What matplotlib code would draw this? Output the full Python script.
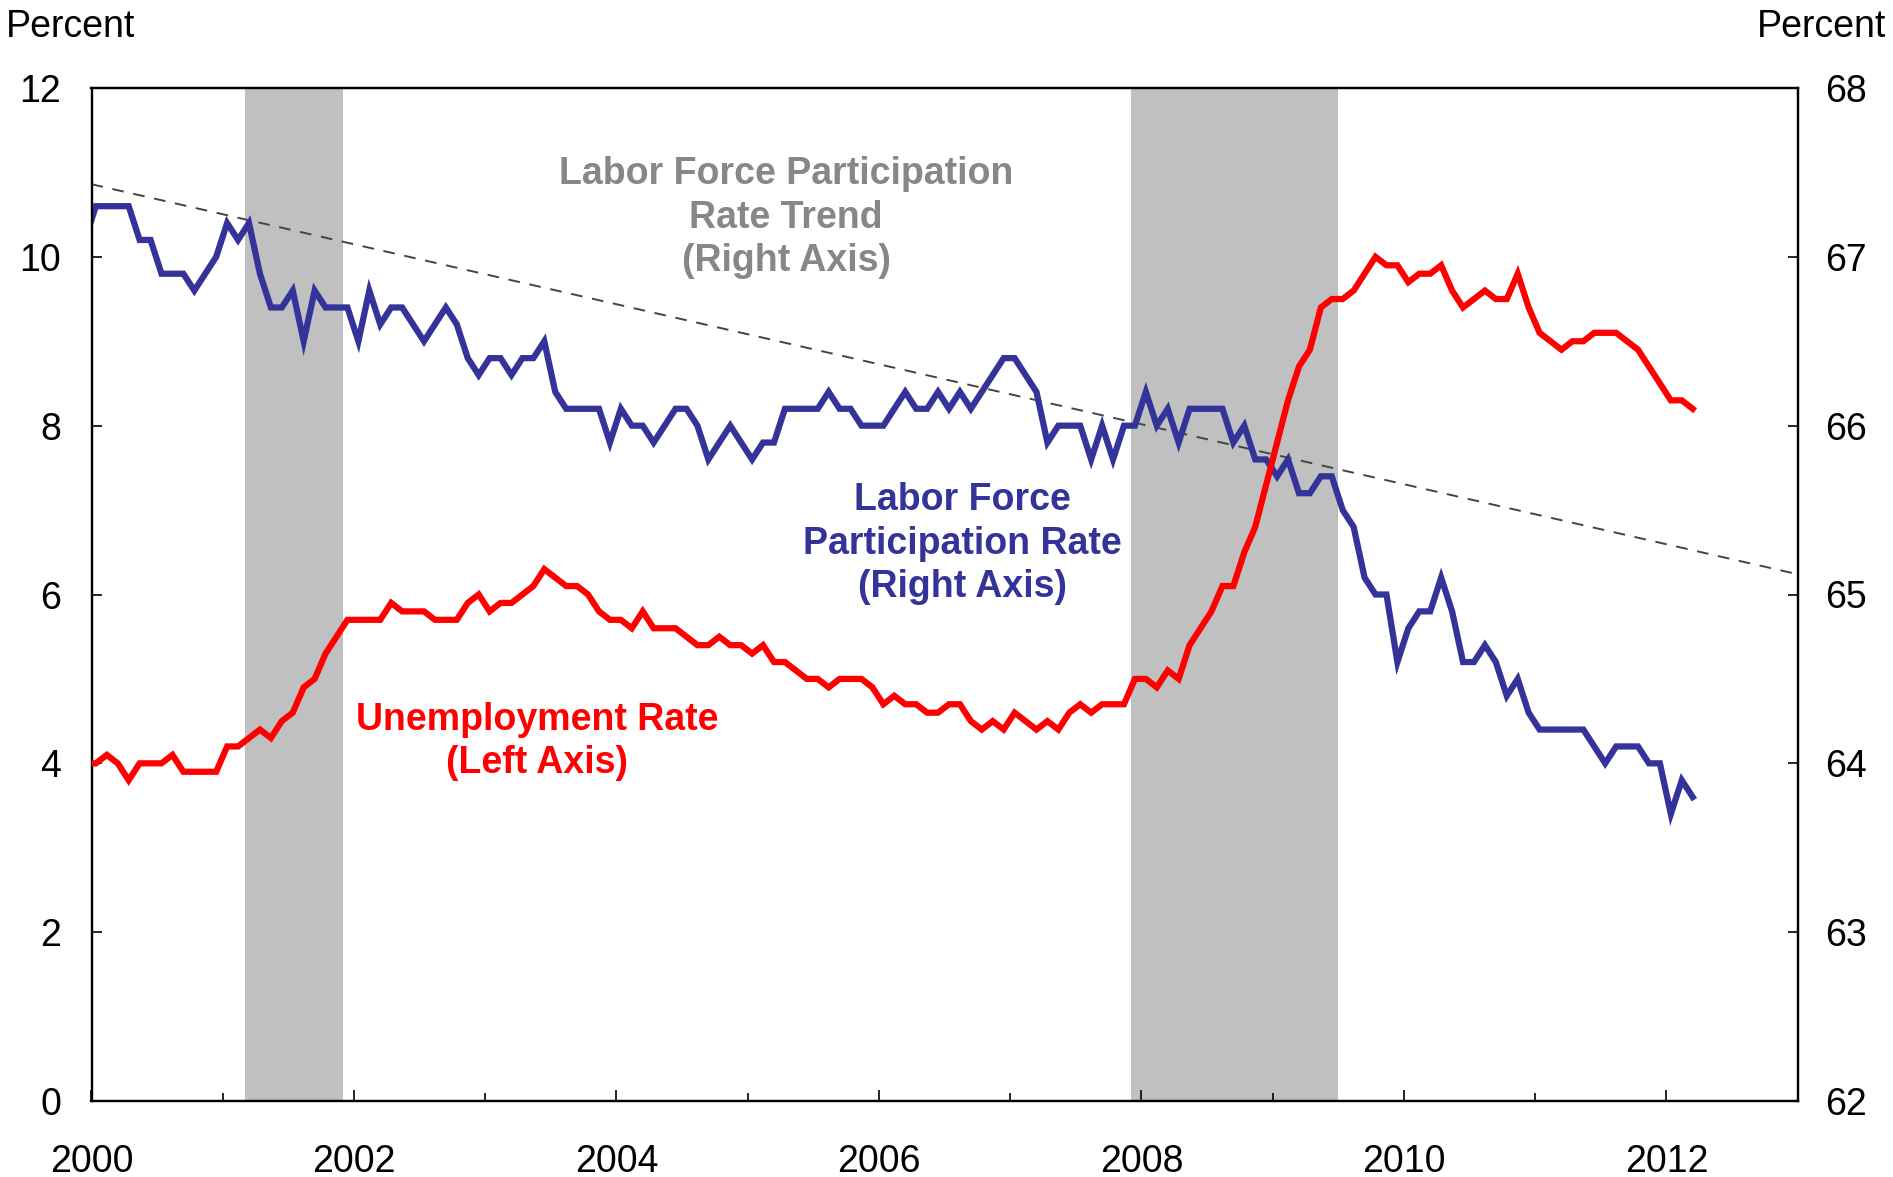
import matplotlib
matplotlib.use("Agg")
import matplotlib.pyplot as plt
from matplotlib.ticker import MultipleLocator
import numpy as np

plt.rcParams['font.family'] = ['Liberation Sans', 'DejaVu Sans']

# ---------------- data (monthly, Dec 1999 .. Mar 2012) ----------------
start_year = 1999
start_month = 12  # first observation month

unemployment_rate = [
    4.0,
    4.0, 4.1, 4.0, 3.8, 4.0, 4.0, 4.0, 4.1, 3.9, 3.9, 3.9, 3.9,   # 2000
    4.2, 4.2, 4.3, 4.4, 4.3, 4.5, 4.6, 4.9, 5.0, 5.3, 5.5, 5.7,   # 2001
    5.7, 5.7, 5.7, 5.9, 5.8, 5.8, 5.8, 5.7, 5.7, 5.7, 5.9, 6.0,   # 2002
    5.8, 5.9, 5.9, 6.0, 6.1, 6.3, 6.2, 6.1, 6.1, 6.0, 5.8, 5.7,   # 2003
    5.7, 5.6, 5.8, 5.6, 5.6, 5.6, 5.5, 5.4, 5.4, 5.5, 5.4, 5.4,   # 2004
    5.3, 5.4, 5.2, 5.2, 5.1, 5.0, 5.0, 4.9, 5.0, 5.0, 5.0, 4.9,   # 2005
    4.7, 4.8, 4.7, 4.7, 4.6, 4.6, 4.7, 4.7, 4.5, 4.4, 4.5, 4.4,   # 2006
    4.6, 4.5, 4.4, 4.5, 4.4, 4.6, 4.7, 4.6, 4.7, 4.7, 4.7, 5.0,   # 2007
    5.0, 4.9, 5.1, 5.0, 5.4, 5.6, 5.8, 6.1, 6.1, 6.5, 6.8, 7.3,   # 2008
    7.8, 8.3, 8.7, 8.9, 9.4, 9.5, 9.5, 9.6, 9.8, 10.0, 9.9, 9.9,  # 2009
    9.7, 9.8, 9.8, 9.9, 9.6, 9.4, 9.5, 9.6, 9.5, 9.5, 9.8, 9.4,   # 2010
    9.1, 9.0, 8.9, 9.0, 9.0, 9.1, 9.1, 9.1, 9.0, 8.9, 8.7, 8.5,   # 2011
    8.3, 8.3, 8.2,                                                # 2012
]

participation_rate = [
    67.1,
    67.3, 67.3, 67.3, 67.3, 67.1, 67.1, 66.9, 66.9, 66.9, 66.8, 66.9, 67.0,  # 2000
    67.2, 67.1, 67.2, 66.9, 66.7, 66.7, 66.8, 66.5, 66.8, 66.7, 66.7, 66.7,  # 2001
    66.5, 66.8, 66.6, 66.7, 66.7, 66.6, 66.5, 66.6, 66.7, 66.6, 66.4, 66.3,  # 2002
    66.4, 66.4, 66.3, 66.4, 66.4, 66.5, 66.2, 66.1, 66.1, 66.1, 66.1, 65.9,  # 2003
    66.1, 66.0, 66.0, 65.9, 66.0, 66.1, 66.1, 66.0, 65.8, 65.9, 66.0, 65.9,  # 2004
    65.8, 65.9, 65.9, 66.1, 66.1, 66.1, 66.1, 66.2, 66.1, 66.1, 66.0, 66.0,  # 2005
    66.0, 66.1, 66.2, 66.1, 66.1, 66.2, 66.1, 66.2, 66.1, 66.2, 66.3, 66.4,  # 2006
    66.4, 66.3, 66.2, 65.9, 66.0, 66.0, 66.0, 65.8, 66.0, 65.8, 66.0, 66.0,  # 2007
    66.2, 66.0, 66.1, 65.9, 66.1, 66.1, 66.1, 66.1, 65.9, 66.0, 65.8, 65.8,  # 2008
    65.7, 65.8, 65.6, 65.6, 65.7, 65.7, 65.5, 65.4, 65.1, 65.0, 65.0, 64.6,  # 2009
    64.8, 64.9, 64.9, 65.1, 64.9, 64.6, 64.6, 64.7, 64.6, 64.4, 64.5, 64.3,  # 2010
    64.2, 64.2, 64.2, 64.2, 64.2, 64.1, 64.0, 64.1, 64.1, 64.1, 64.0, 64.0,  # 2011
    63.7, 63.9, 63.8,                                                        # 2012
]

trend_years = [2000, 2013]
trend_values = [67.43, 65.12]

recession_starts = [2001.167, 2007.917]
recession_ends = [2001.917, 2009.5]

x_tick_labels = ['2000', '2002', '2004', '2006', '2008', '2010', '2012']
left_ticks = [0, 2, 4, 6, 8, 10, 12]
right_ticks = [62, 63, 64, 65, 66, 67, 68]

# ---------------- figure ----------------
W, H = 1893, 1177
fig = plt.figure(figsize=(W / 100, H / 100), dpi=100)
fig.patch.set_facecolor('white')

left_px, right_px, top_px, bottom_px = 91.5, 1797.7, 88, 1101
ax = fig.add_axes([left_px / W, 1 - bottom_px / H,
                   (right_px - left_px) / W, (bottom_px - top_px) / H])
ax2 = ax.twinx()

n = len(unemployment_rate)
offset = 0.4
months = start_year + (start_month - 1 + np.arange(n) + offset) / 12.0

RED = '#FF0000'
BLUE = '#333399'
GRAY_TXT = '#878787'

# lower axes (ax2): shading, trend, participation
for s, e in zip(recession_starts, recession_ends):
    ax2.axvspan(s, e, color='#C0C0C0', lw=0, zorder=0)
ax2.plot(trend_years, trend_values, color='#444444', lw=1.4,
         dashes=(6, 5), zorder=2)
ax2.plot(months, participation_rate, color=BLUE, lw=4.5,
         solid_joinstyle='miter', zorder=3)

# upper axes (ax): unemployment
ax.set_zorder(ax2.get_zorder() + 1)
ax.patch.set_visible(False)
ax.plot(months, unemployment_rate, color=RED, lw=4.5,
        solid_joinstyle='miter', zorder=3)

ax.set_xlim(2000, 2013)
ax.set_ylim(0, 12)
ax2.set_ylim(62, 68)

ax.set_xticks([int(t) for t in x_tick_labels])
ax.set_xticklabels(x_tick_labels)
ax.xaxis.set_minor_locator(MultipleLocator(1))
ax.set_yticks(left_ticks)
ax.set_yticklabels([str(t) for t in left_ticks])
ax2.set_yticks(right_ticks)
ax2.set_yticklabels([str(t) for t in right_ticks])

FS = 27
ax.tick_params(axis='x', which='major', direction='in', length=8, width=1.2,
               labelsize=FS, pad=31, top=False)
ax.tick_params(axis='x', which='minor', direction='in', length=5.5, width=1.2,
               top=False)
ax.tick_params(axis='y', which='major', direction='in', length=7, width=1.2,
               labelsize=FS, pad=22)
ax2.tick_params(axis='y', which='major', direction='in', length=7, width=1.2,
                labelsize=FS, pad=20)

for a in (ax, ax2):
    for sp in a.spines.values():
        sp.set_linewidth(1.6)
        sp.set_color('black')

# labels
fig.text(6 / W, 1 - 27 / H, 'Percent', fontsize=FS, ha='left', va='center')
fig.text(1886 / W, 1 - 27 / H, 'Percent', fontsize=FS, ha='right', va='center')

LS = 1.28
fig.text(786 / W, 1 - 217.5 / H, 'Labor Force Participation\nRate Trend\n(Right Axis)',
         fontsize=FS, fontweight='bold', color=GRAY_TXT, ha='center', va='center',
         linespacing=LS)
fig.text(962 / W, 1 - 543.5 / H, 'Labor Force\nParticipation Rate\n(Right Axis)',
         fontsize=FS, fontweight='bold', color=BLUE, ha='center', va='center',
         linespacing=LS)
fig.text(537 / W, 1 - 741.5 / H, 'Unemployment Rate\n(Left Axis)',
         fontsize=FS, fontweight='bold', color=RED, ha='center', va='center',
         linespacing=LS)

fig.savefig('out.png', dpi=100, facecolor='white')
